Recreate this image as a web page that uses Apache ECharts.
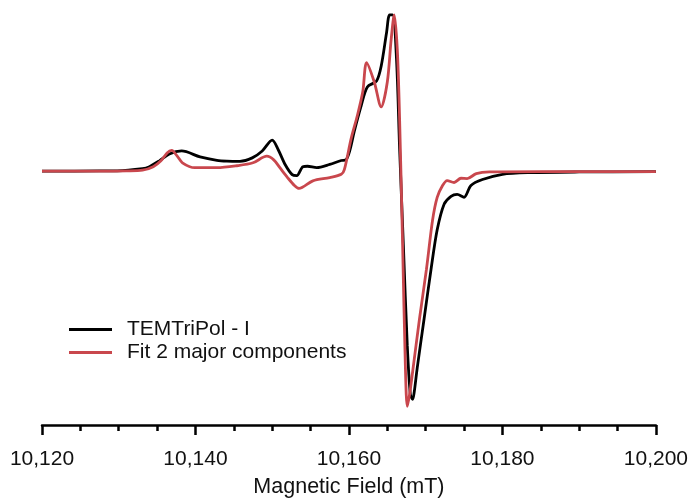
<!DOCTYPE html>
<html>
<head>
<meta charset="utf-8">
<script src="https://cdn.jsdelivr.net/npm/echarts@6/dist/echarts.min.js"></script>
<style>
html,body{margin:0;padding:0;background:#fff;}
#chart{width:691px;height:503px;}
</style>
</head>
<body>
<div id="chart"></div>
<script>
// Magnetic field (mT) and signal (arbitrary units)
const seriesNames = ['TEMTriPol - I', 'Fit 2 major components'];
const xTicks = [10120, 10140, 10160, 10180, 10200];

const measured = [
  [10120, 0.5], [10127.5, 0.7], [10129.8, 0.8], [10133.1, 3], [10134.0, 5],
  [10135.3, 11], [10136.6, 18], [10138.2, 21], [10140.6, 15], [10142.8, 11.5],
  [10144.1, 10.7], [10145.8, 10.5], [10147.4, 14], [10148.7, 21], [10150.0, 32],
  [10150.8, 22], [10151.7, 7], [10152.6, -3], [10153.2, -4], [10154.0, 5],
  [10154.6, 5.5], [10155.8, 4], [10157.5, 7.3], [10159.0, 11.3], [10159.6, 12],
  [10160.1, 21], [10160.7, 41], [10161.6, 67], [10162.4, 86], [10163.6, 92],
  [10164.2, 107], [10164.9, 141], [10165.3, 159], [10165.7, 159], [10166.2, 114],
  [10166.6, 24], [10167.1, -76], [10167.6, -176], [10168.0, -226], [10168.3, -231],
  [10168.5, -224], [10168.9, -199], [10169.8, -149], [10170.7, -99], [10171.5, -59],
  [10172.4, -33], [10173.3, -25], [10174.1, -23], [10175.0, -26], [10175.9, -14],
  [10177.4, -8], [10180.0, -2.7], [10183.5, -1], [10190, -0.3], [10200, 0]
];

const fit = [
  [10120, 0.5], [10127.5, 0.5], [10131, 0.8], [10133.1, 1.5], [10134.5, 5],
  [10135.5, 11], [10136.3, 19], [10136.9, 21.5], [10137.6, 16], [10138.3, 9],
  [10139.9, 4], [10142.8, 4], [10145.4, 6], [10147.5, 9], [10149.3, 15.7],
  [10150.2, 12], [10151.0, 4], [10152.0, -6], [10152.9, -14], [10153.5, -17],
  [10155.3, -9.3], [10157.5, -6], [10159.0, -2.7], [10159.4, 2], [10160.3, 34],
  [10161.1, 57], [10161.8, 81], [10162.3, 110.7], [10163.3, 91], [10164.2, 65.7],
  [10165.0, 91], [10165.5, 134], [10165.9, 159], [10166.3, 124], [10166.6, 54],
  [10167.0, -76], [10167.35, -196], [10167.6, -238], [10167.9, -226], [10168.3, -203],
  [10169.2, -149], [10170.1, -99], [10170.9, -49], [10171.5, -26], [10172.2, -14],
  [10172.8, -9], [10173.7, -11], [10174.6, -6.7], [10175.4, -7], [10176.6, -2],
  [10178.3, -0.3], [10185, 0], [10200, 0]
];

const chart = echarts.init(document.getElementById('chart'), null, {renderer: 'canvas'});
const font = 'Liberation Sans, Arial, Helvetica, sans-serif';
const RED = '#c9474d';
chart.setOption({
  animation: false,
  backgroundColor: '#ffffff',
  grid: {left: 42, right: 34, top: 10, bottom: 72, containLabel: false},
  legend: {
    orient: 'vertical',
    left: 64,
    top: 314,
    icon: 'rect',
    itemWidth: 43,
    itemHeight: 3,
    itemGap: 2,
    data: seriesNames,
    textStyle: {fontFamily: font, fontSize: 21, color: '#111', padding: [0, 0, 0, 10]}
  },
  xAxis: {
    type: 'value',
    min: xTicks[0],
    max: xTicks[xTicks.length - 1],
    interval: 20,
    name: 'Magnetic Field (mT)',
    nameLocation: 'middle',
    nameGap: 51,
    nameTextStyle: {fontFamily: font, fontSize: 21.5, color: '#111'},
    axisLine: {onZero: false, lineStyle: {color: '#000', width: 2.5}},
    axisTick: {show: true, length: 10, lineStyle: {color: '#000', width: 2.5}},
    minorTick: {show: true, splitNumber: 4, length: 6, lineStyle: {color: '#000', width: 2.5}},
    splitLine: {show: false},
    axisLabel: {
      margin: 24,
      fontFamily: font, fontSize: 21, color: '#111',
      formatter: v => v.toLocaleString('en-US')
    }
  },
  yAxis: {
    type: 'value',
    min: -257,
    max: 164,
    show: false
  },
  series: [
    {
      name: seriesNames[0], type: 'line', data: measured,
      symbol: 'none', smooth: 0.3,
      lineStyle: {color: '#000000', width: 2.8},
      itemStyle: {color: '#000000'}
    },
    {
      name: seriesNames[1], type: 'line', data: fit,
      symbol: 'none', smooth: 0.3,
      lineStyle: {color: RED, width: 2.8},
      itemStyle: {color: RED}
    }
  ]
});
</script>
</body>
</html>
